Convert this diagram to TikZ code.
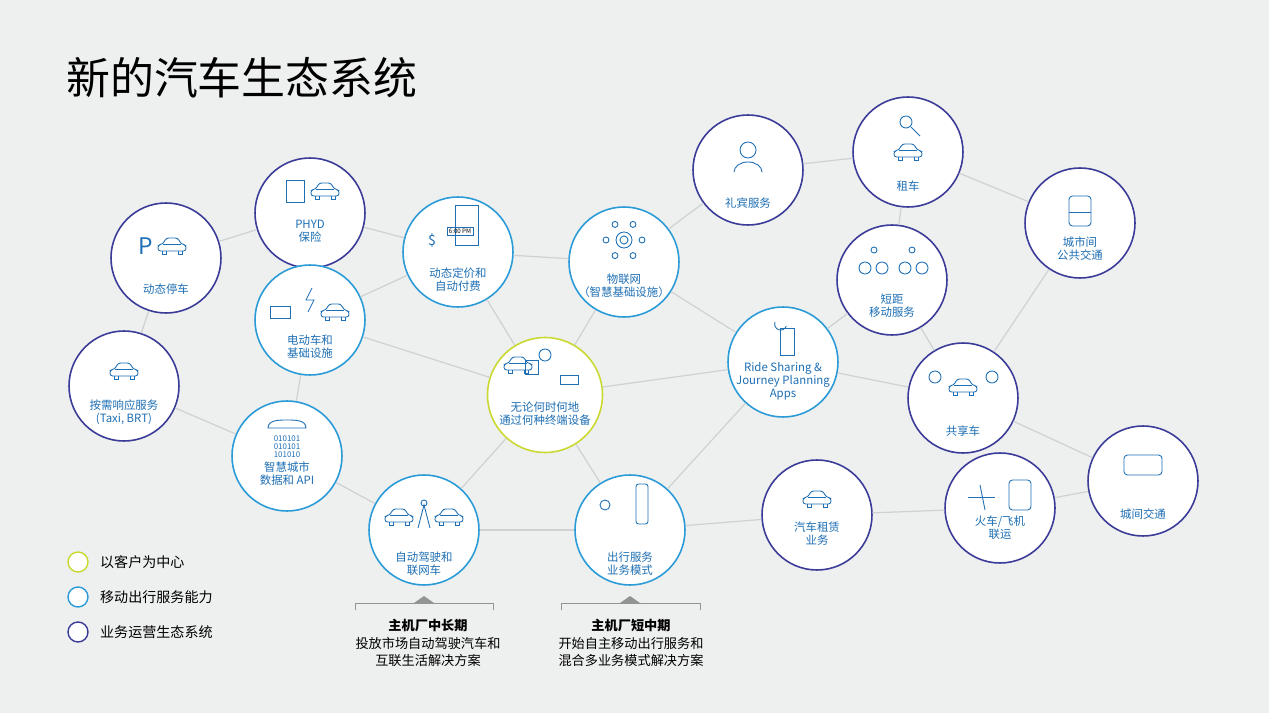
\documentclass[tikz,border=0pt]{standalone}
\usepackage{fontspec}
\setmainfont{Noto Sans CJK SC}
\usetikzlibrary{positioning,calc}
\definecolor{bgc}{HTML}{EEEFEF}
\definecolor{ringpurple}{HTML}{3B3B98}
\definecolor{ringblue}{HTML}{2B9BD8}
\definecolor{ringgreen}{HTML}{C9D92F}
\definecolor{txtblue}{HTML}{1E6FB4}
\definecolor{linegray}{HTML}{CFD2D4}
\tikzset{
  hub/.style={circle, draw, line width=0.9pt, fill=white, minimum size=2.2cm, inner sep=0pt},
  eco/.style={hub, draw=ringpurple},
  mob/.style={hub, draw=ringblue},
  cust/.style={hub, draw=ringgreen, minimum size=2.3cm},
  lbl/.style={font=\fontsize{6.5}{7.5}\selectfont, text=txtblue, align=center},
  link/.style={draw=linegray, line width=0.7pt},
  legendring/.style={circle, draw, line width=0.8pt, fill=white, minimum size=0.4cm, inner sep=0pt},
  legendtext/.style={font=\fontsize{8}{9}\selectfont, anchor=west},
  icon/.style={draw=txtblue, line width=0.5pt},
  pics/car/.style={code={
    \draw[icon, rounded corners=1.5pt] (-14,4) -- (-14,-2) -- (-9,-3) -- (-6,-9) -- (6,-9) -- (9,-3) -- (14,-2) -- (14,4) -- cycle;
    \draw[icon] (-10,4) -- (-10,7) -- (-6,7) -- (-6,4);
    \draw[icon] (10,4) -- (10,7) -- (6,7) -- (6,4);
    \draw[icon] (-9,-3) -- (9,-3);
  }}
}
\begin{document}
\begin{tikzpicture}[x=0.02cm, y=-0.02cm]
  \fill[bgc] (0,0) rectangle (1269,713);
  \useasboundingbox (0,0) rectangle (1269,713);

  % title
  \node[anchor=west, font=\fontsize{25}{30}\selectfont] (title) at (60,78) {新的汽车生态系统};

  % circles
  \node[eco] (park) at (166,258) {};
  \node[eco] (phyd) at (310,213) {};
  \node[mob] (price) at (458,252) {};
  \node[mob] (iot) at (624,262) {};
  \node[eco] (conc) at (748,170) {};
  \node[eco] (rent) at (908,152) {};
  \node[eco] (intercity) at (1080,223) {};
  \node[eco] (micro) at (892,280) {};
  \node[mob] (ev) at (310,320) {};
  \node[mob] (ride) at (783,362) {};
  \node[eco] (share) at (963,398) {};
  \node[eco] (demand) at (124,386) {};
  \node[cust] (core) at (545,395) {};
  \node[mob] (smart) at (287,456) {};
  \node[eco] (bus) at (1143,481) {};
  \node[mob] (auto) at (424,530) {};
  \node[mob] (maas) at (630,530) {};
  \node[eco] (lease) at (817,515) {};
  \node[eco] (rail) at (1000,508) {};

  % connectors
  \foreach \a/\b in {park/phyd, phyd/price, price/iot, iot/conc, conc/rent, rent/intercity,
      rent/micro, micro/share, intercity/share, park/demand, demand/smart, smart/ev,
      ev/price, ev/core, price/core, iot/core, iot/ride, ride/core, ride/micro, ride/share,
      share/bus, bus/rail, rail/lease, lease/maas, maas/auto, auto/smart, auto/core,
      maas/core, maas/ride}
    \draw[link] (\a) -- (\b);

  % labels
  \node[lbl] (parkL) at (166,289) {动态停车};
  \node[lbl] (phydL) at (310,231) {PHYD\\保险};
  \node[lbl] (priceL) at (458,280) {动态定价和\\自动付费};
  \node[lbl] (iotL) at (624,286) {物联网\\（智慧基础设施）};
  \node[lbl] (concL) at (748,203) {礼宾服务};
  \node[lbl] (rentL) at (908,186) {租车};
  \node[lbl] (intercityL) at (1080,249) {城市间\\公共交通};
  \node[lbl] (microL) at (892,306) {短距\\移动服务};
  \node[lbl] (evL) at (310,347) {电动车和\\基础设施};
  \node[lbl] (rideL) at (783,381) {Ride Sharing \&\\Journey Planning\\Apps};
  \node[lbl] (shareL) at (963,431) {共享车};
  \node[lbl] (demandL) at (124,412) {按需响应服务\\(Taxi, BRT)};
  \node[lbl] (coreL) at (545,414) {无论何时何地\\通过何种终端设备};
  \node[lbl] (smartL) at (287,474) {智慧城市\\数据和 API};
  \node[lbl] (busL) at (1143,514) {城间交通};
  \node[lbl] (autoL) at (424,564) {自动驾驶和\\联网车};
  \node[lbl] (maasL) at (630,564) {出行服务\\业务模式};
  \node[lbl] (leaseL) at (817,534) {汽车租赁\\业务};
  \node[lbl] (railL) at (1000,528) {火车/飞机\\联运};

  % icons
  \pic at (172,247) {car};
  \node[text=txtblue, font=\fontsize{13}{13}\selectfont] (pmark) at (146,246) {P};
  \pic at (325,192) {car};
  \draw[icon] (286,180) rectangle (304,202);
  \draw[icon] (455,205) rectangle (478,245);
  \node[draw=txtblue, line width=0.4pt, font=\fontsize{3.5}{4}\selectfont, inner sep=1pt] (clock) at (460,231) {6:00 PM};
  \node[text=txtblue, font=\fontsize{8}{8}\selectfont] (dollar) at (432,240) {\$};
  \draw[icon] (624,240) circle (8);
  \draw[icon] (624,240) circle (4);
  \foreach \ang in {0,60,...,300}
    \draw[icon] ($(624,240)+(\ang:18)$) circle (3);
  \draw[icon] (748,150) circle (8);
  \draw[icon] (734,172) arc (180:360:14 and 10);
  \draw[icon] (906,122) circle (6);
  \draw[icon] (911,127) -- (920,136);
  \pic at (908,153) {car};
  \draw[icon, rounded corners=2pt] (1069,196) rectangle (1091,226);
  \draw[icon] (1069,212) -- (1091,212);
  \draw[icon] (865,268) circle (6);
  \draw[icon] (882,268) circle (6);
  \draw[icon] (905,268) circle (6);
  \draw[icon] (922,268) circle (6);
  \draw[icon] (874,250) circle (3);
  \draw[icon] (912,250) circle (3);
  \draw[icon] (270,318) rectangle (290,306);
  \pic at (335,313) {car};
  \draw[icon] (312,288) -- (306,300) -- (314,300) -- (308,312);
  \draw[icon] (780,328) rectangle (794,355);
  \draw[icon] (775,322) arc (200:20:6);
  \pic at (963,388) {car};
  \draw[icon] (935,377) circle (6);
  \draw[icon] (992,377) circle (6);
  \pic at (124,372) {car};
  \draw[icon] (525,374) rectangle (538,360);
  \draw[icon] (545,355) circle (6);
  \draw[icon] (560,375) rectangle (578,384);
  \pic at (518,366) {car};
  \draw[icon] (268,428) to[out=90, in=180] (287,420) to[out=0, in=90] (306,428) -- cycle;
  \node[text=txtblue, font=\fontsize{4.5}{4.5}\selectfont, align=center] (bits) at (287,447) {010101\\010101\\101010};
  \draw[icon, rounded corners=2pt] (1124,455) rectangle (1162,475);
  \pic at (399,518) {car};
  \pic at (449,518) {car};
  \draw[icon] (418,528) -- (424,505) -- (430,528);
  \draw[icon] (424,503) circle (3);
  \draw[icon] (605,505) circle (5);
  \draw[icon, rounded corners=1.5pt] (636,484) rectangle (648,524);
  \pic at (817,500) {car};
  \draw[icon] (968,497) -- (995,497);
  \draw[icon] (980,485) -- (985,510);
  \draw[icon, rounded corners=2pt] (1009,480) rectangle (1031,510);

  % legend
  \node[legendring, draw=ringgreen] (lgA) at (78,562) {};
  \node[legendring, draw=ringblue] (lgB) at (78,597) {};
  \node[legendring, draw=ringpurple] (lgC) at (78,632) {};
  \node[legendtext, right=3pt of lgA] (lgAt) {以客户为中心};
  \node[legendtext, right=3pt of lgB] (lgBt) {移动出行服务能力};
  \node[legendtext, right=3pt of lgC] (lgCt) {业务运营生态系统};

  % phase brackets
  \draw[linegray!70!black, line width=0.5pt] (355,610) -- (355,603) -- (493,603) -- (493,610);
  \fill[linegray!70!black] (414,603) -- (424,596) -- (434,603) -- cycle;
  \draw[linegray!70!black, line width=0.5pt] (561,610) -- (561,603) -- (700,603) -- (700,610);
  \fill[linegray!70!black] (620,603) -- (630,596) -- (640,603) -- cycle;
  \node[font=\fontsize{7.5}{10}\selectfont, align=center] (phaseA) at (428,643) {\textbf{主机厂中长期}\\投放市场自动驾驶汽车和\\互联生活解决方案};
  \node[font=\fontsize{7.5}{10}\selectfont, align=center] (phaseB) at (631,643) {\textbf{主机厂短中期}\\开始自主移动出行服务和\\混合多业务模式解决方案};
\end{tikzpicture}
\end{document}
